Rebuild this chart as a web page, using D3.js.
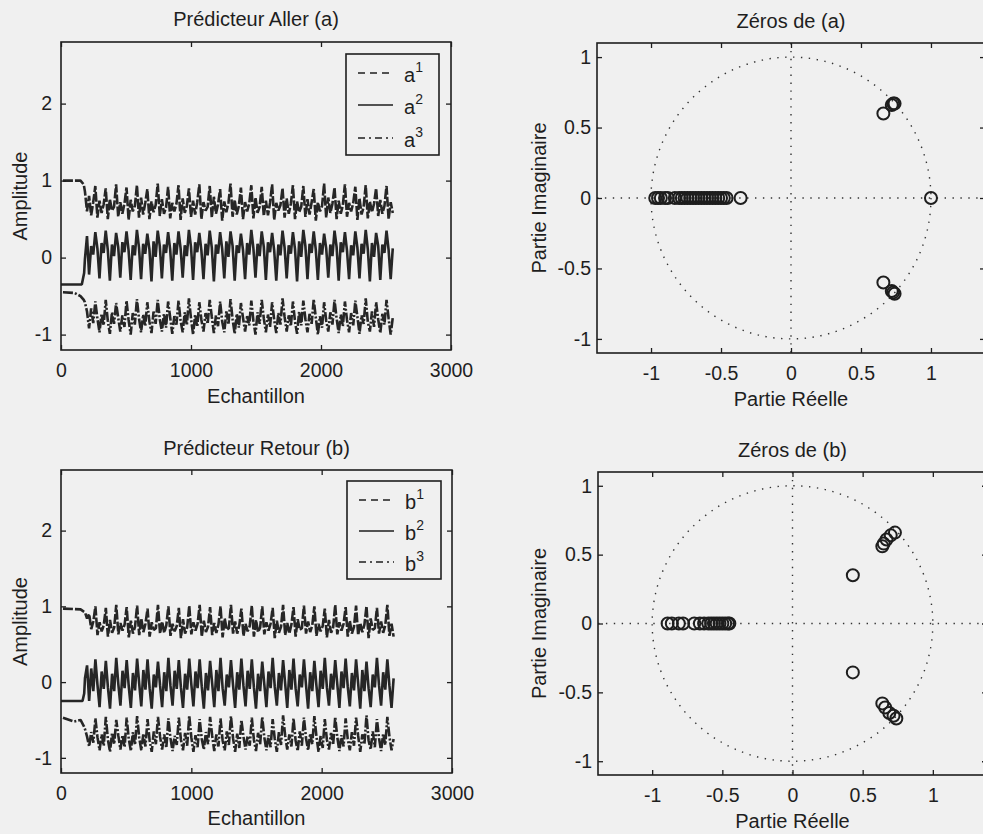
<!DOCTYPE html>
<html>
<head>
<meta charset="utf-8">
<script src="https://cdnjs.cloudflare.com/ajax/libs/d3/7.8.5/d3.min.js"></script>
<style>
body { margin: 0; background: #f0f0f0; }
svg { display: block; }
text { font-family: "Liberation Sans", Arial, sans-serif; fill: #1e1e1e; }
</style>
</head>
<body>
<div id="fig"></div>
<script>
// sample grid of the coefficient traces (start sample, step between values)
var sampleStart = 184;
var sampleStep = 16;

// beginning of each trace, before the grid starts: [sample, value]
var aStart1 = [[15, 1.0], [150, 1.0], [175, 0.95]];
var aStart2 = [[0, -0.35], [160, -0.35], [178, -0.2]];
var aStart3 = [[15, -0.45], [105, -0.46], [150, -0.5], [175, -0.55]];
var bStart1 = [[15, 0.97], [150, 0.96], [175, 0.93]];
var bStart2 = [[0, -0.25], [165, -0.25], [178, -0.15]];
var bStart3 = [[15, -0.47], [100, -0.52], [150, -0.5], [175, -0.58]];

// forward predictor coefficients a1, a2, a3
var a1 = [0.86,0.60,0.80,0.55,0.72, 0.93,0.52,0.74,0.58,0.69, 0.90,0.50,0.76,0.61,0.66, 0.95,0.53,0.72,0.57,0.70,
  0.91,0.49,0.75,0.60,0.67, 0.94,0.52,0.78,0.56,0.71, 0.89,0.50,0.73,0.59,0.68, 0.96,0.54,0.76,0.57,0.65,
  0.92,0.51,0.71,0.60,0.70, 0.94,0.49,0.77,0.58,0.67, 0.90,0.53,0.74,0.56,0.72, 0.95,0.50,0.72,0.61,0.66,
  0.93,0.52,0.79,0.57,0.69, 0.89,0.48,0.73,0.59,0.71, 0.96,0.53,0.75,0.56,0.67, 0.91,0.50,0.72,0.60,0.70,
  0.94,0.51,0.78,0.58,0.66, 0.92,0.54,0.74,0.55,0.71, 0.95,0.49,0.71,0.61,0.68, 0.90,0.52,0.77,0.57,0.70,
  0.94,0.50,0.73,0.59,0.66, 0.93,0.53,0.76,0.56,0.72, 0.89,0.48,0.72,0.60,0.67, 0.96,0.52,0.78,0.58,0.70,
  0.91,0.50,0.74,0.57,0.68, 0.95,0.53,0.71,0.60,0.71, 0.92,0.49,0.77,0.56,0.66, 0.94,0.51,0.73,0.59,0.70,
  0.90,0.54,0.75,0.57,0.67, 0.93,0.50,0.72,0.58];
var a2 = [-0.02,0.28,-0.22,0.15,0.04, 0.33,0.12,-0.27,0.19,0.06, 0.35,0.10,-0.30,0.17,0.02, 0.32,0.14,-0.26,0.20,0.07,
  0.34,0.09,-0.29,0.16,0.03, 0.36,0.13,-0.28,0.18,0.05, 0.31,0.11,-0.31,0.21,0.01, 0.35,0.15,-0.27,0.17,0.06,
  0.33,0.10,-0.30,0.19,0.04, 0.34,0.12,-0.26,0.16,0.02, 0.36,0.14,-0.29,0.20,0.07, 0.32,0.09,-0.28,0.18,0.03,
  0.35,0.13,-0.31,0.17,0.05, 0.33,0.11,-0.27,0.21,0.01, 0.34,0.15,-0.30,0.16,0.06, 0.31,0.10,-0.28,0.19,0.04,
  0.36,0.12,-0.26,0.18,0.02, 0.34,0.14,-0.29,0.20,0.07, 0.32,0.09,-0.30,0.17,0.03, 0.35,0.13,-0.27,0.16,0.05,
  0.33,0.11,-0.31,0.21,0.01, 0.36,0.15,-0.28,0.18,0.06, 0.34,0.10,-0.29,0.19,0.04, 0.31,0.12,-0.26,0.17,0.02,
  0.35,0.14,-0.30,0.20,0.07, 0.33,0.09,-0.28,0.16,0.03, 0.34,0.13,-0.27,0.18,0.05, 0.36,0.11,-0.31,0.19,0.01,
  0.32,0.15,-0.29,0.17,0.06, 0.35,0.10,-0.28,0.12];
var a3 = [-0.58,-0.70,-0.92,-0.66,-0.85, -0.57,-0.79,-0.97,-0.73,-0.88, -0.55,-0.82,-0.99,-0.71,-0.86, -0.59,-0.78,-0.96,-0.75,-0.90,
  -0.56,-0.81,-1.00,-0.72,-0.87, -0.54,-0.79,-0.97,-0.74,-0.89, -0.58,-0.83,-0.98,-0.70,-0.86, -0.55,-0.80,-0.96,-0.73,-0.91,
  -0.57,-0.78,-0.99,-0.76,-0.87, -0.56,-0.82,-0.97,-0.71,-0.88, -0.53,-0.79,-1.00,-0.74,-0.90, -0.58,-0.81,-0.96,-0.72,-0.86,
  -0.55,-0.77,-0.98,-0.75,-0.89, -0.57,-0.83,-0.97,-0.70,-0.87, -0.54,-0.80,-0.99,-0.73,-0.91, -0.59,-0.78,-0.96,-0.76,-0.88,
  -0.56,-0.82,-1.00,-0.71,-0.86, -0.55,-0.79,-0.97,-0.74,-0.90, -0.58,-0.81,-0.98,-0.72,-0.87, -0.53,-0.77,-0.96,-0.75,-0.89,
  -0.57,-0.83,-0.99,-0.70,-0.88, -0.56,-0.80,-0.97,-0.73,-0.86, -0.54,-0.78,-1.00,-0.76,-0.91, -0.58,-0.82,-0.96,-0.71,-0.87,
  -0.55,-0.79,-0.98,-0.74,-0.89, -0.57,-0.81,-0.97,-0.72,-0.88, -0.56,-0.77,-0.99,-0.75,-0.86, -0.53,-0.83,-0.96,-0.70,-0.90,
  -0.58,-0.80,-0.98,-0.73,-0.87, -0.55,-0.79,-1.00,-0.78];

// backward predictor coefficients b1, b2, b3
var b1 = [0.92,0.84,0.90,0.70,0.80, 1.00,0.62,0.79,0.67,0.75, 0.98,0.60,0.82,0.65,0.72, 1.02,0.63,0.78,0.68,0.76,
  0.99,0.59,0.81,0.64,0.73, 1.01,0.62,0.84,0.66,0.77, 0.97,0.60,0.79,0.69,0.71, 1.02,0.64,0.80,0.65,0.75,
  1.00,0.61,0.77,0.67,0.74, 0.98,0.58,0.83,0.64,0.72, 1.01,0.63,0.79,0.68,0.77, 1.02,0.60,0.81,0.66,0.73,
  0.99,0.62,0.78,0.65,0.76, 1.00,0.59,0.84,0.69,0.71, 1.02,0.64,0.80,0.64,0.75, 0.97,0.61,0.77,0.67,0.74,
  1.01,0.60,0.82,0.66,0.72, 1.00,0.63,0.79,0.68,0.77, 0.98,0.58,0.81,0.65,0.73, 1.02,0.62,0.78,0.64,0.76,
  0.99,0.60,0.83,0.69,0.71, 1.01,0.64,0.80,0.66,0.75, 1.00,0.61,0.77,0.67,0.74, 0.97,0.59,0.82,0.65,0.72,
  1.02,0.63,0.79,0.68,0.77, 0.99,0.60,0.81,0.64,0.73, 1.01,0.62,0.78,0.66,0.76, 1.00,0.58,0.84,0.69,0.71,
  0.98,0.64,0.80,0.65,0.75, 1.02,0.61,0.77,0.60];
var b2 = [0.05,0.22,-0.25,0.18,-0.12, 0.30,-0.04,-0.33,0.14,-0.09, 0.28,-0.07,-0.35,0.11,-0.12, 0.32,-0.03,-0.31,0.15,-0.08,
  0.29,-0.06,-0.34,0.12,-0.11, 0.31,-0.02,-0.32,0.16,-0.10, 0.30,-0.08,-0.35,0.10,-0.07, 0.27,-0.04,-0.33,0.13,-0.12,
  0.32,-0.05,-0.31,0.15,-0.09, 0.29,-0.07,-0.34,0.11,-0.10, 0.31,-0.03,-0.32,0.14,-0.08, 0.30,-0.06,-0.35,0.12,-0.11,
  0.28,-0.02,-0.33,0.16,-0.12, 0.32,-0.08,-0.31,0.10,-0.07, 0.29,-0.04,-0.34,0.13,-0.10, 0.31,-0.05,-0.32,0.15,-0.09,
  0.30,-0.07,-0.35,0.11,-0.12, 0.27,-0.03,-0.33,0.14,-0.08, 0.32,-0.06,-0.31,0.12,-0.11, 0.29,-0.02,-0.34,0.16,-0.10,
  0.31,-0.08,-0.32,0.10,-0.07, 0.30,-0.04,-0.35,0.13,-0.12, 0.28,-0.05,-0.33,0.15,-0.09, 0.32,-0.07,-0.31,0.11,-0.10,
  0.29,-0.03,-0.34,0.14,-0.08, 0.31,-0.06,-0.32,0.12,-0.11, 0.30,-0.02,-0.35,0.16,-0.12, 0.27,-0.08,-0.33,0.10,-0.07,
  0.32,-0.04,-0.31,0.13,-0.10, 0.30,-0.05,-0.34,0.05];
var b3 = [-0.62,-0.72,-0.85,-0.66,-0.80, -0.48,-0.73,-0.90,-0.69,-0.84, -0.46,-0.76,-0.92,-0.67,-0.82, -0.50,-0.71,-0.89,-0.70,-0.86,
  -0.47,-0.75,-0.91,-0.66,-0.83, -0.45,-0.73,-0.90,-0.68,-0.85, -0.49,-0.77,-0.92,-0.65,-0.82, -0.46,-0.72,-0.89,-0.69,-0.87,
  -0.48,-0.74,-0.91,-0.71,-0.83, -0.47,-0.76,-0.90,-0.67,-0.84, -0.44,-0.73,-0.92,-0.70,-0.86, -0.49,-0.75,-0.89,-0.66,-0.82,
  -0.46,-0.71,-0.91,-0.69,-0.85, -0.48,-0.77,-0.90,-0.65,-0.83, -0.45,-0.74,-0.92,-0.68,-0.87, -0.50,-0.72,-0.89,-0.71,-0.84,
  -0.47,-0.76,-0.91,-0.67,-0.82, -0.46,-0.73,-0.90,-0.70,-0.86, -0.49,-0.75,-0.92,-0.66,-0.83, -0.44,-0.71,-0.89,-0.69,-0.85,
  -0.48,-0.77,-0.91,-0.65,-0.84, -0.47,-0.74,-0.90,-0.68,-0.82, -0.45,-0.72,-0.92,-0.71,-0.87, -0.49,-0.76,-0.89,-0.67,-0.83,
  -0.46,-0.73,-0.91,-0.70,-0.85, -0.48,-0.75,-0.90,-0.66,-0.84, -0.47,-0.71,-0.92,-0.69,-0.82, -0.44,-0.77,-0.89,-0.65,-0.86,
  -0.49,-0.74,-0.91,-0.68,-0.83, -0.46,-0.72,-0.90,-0.75];

// zeros of (a): real and imaginary parts
var zerosARe = [-0.97,-0.95,-0.93,-0.90,-0.88,-0.83,-0.80,-0.78,-0.76,-0.74,-0.72,-0.70,-0.68,-0.66,-0.64,-0.62,-0.60,-0.58,-0.56,-0.54,-0.52,-0.50,-0.48,-0.46,-0.36,
  0.66, 0.72, 0.73, 0.74, 0.66, 0.72, 0.73, 0.74, 1.0];
var zerosAIm = [0,0,0,0,0,0,0,0,0,0,0,0,0,0,0,0,0,0,0,0,0,0,0,0,0,
  0.60, 0.66, 0.67, 0.67, -0.60, -0.66, -0.67, -0.68, 0];

// zeros of (b)
var zerosBRe = [-0.89,-0.86,-0.81,-0.78,-0.70,-0.66,-0.63,-0.60,-0.58,-0.56,-0.54,-0.52,-0.50,-0.48,-0.46,-0.45,
  0.43, 0.43, 0.64, 0.65, 0.67, 0.70, 0.73, 0.64, 0.66, 0.69, 0.72, 0.74];
var zerosBIm = [0,0,0,0,0,0,0,0,0,0,0,0,0,0,0,0,
  0.35, -0.355, 0.56, 0.58, 0.61, 0.64, 0.66, -0.58, -0.61, -0.65, -0.67, -0.69];

// tick labels
var sampleTicks = [0, 1000, 2000, 3000];
var ampTicks = [-1, 0, 1, 2];
var zTicks = [-1, -0.5, 0, 0.5, 1];

var width = 983;
var height = 834;
var ink = "#1e1e1e";
var fontSize = 20;
var tickFont = 19.5;

var svg = d3.select("#fig").append("svg")
    .attr("width", width)
    .attr("height", height);

svg.append("rect")
    .attr("width", width)
    .attr("height", height)
    .attr("fill", "#f0f0f0");

// line styles of the three traces (dashed, solid, dash-dot)
var dashes = ["10,2", null, "10,2,2,2"];
var legendDashes = ["7,5", null, "7,4,2,4"];

// joins the starting piece and the regular grid of a trace
function tracePoints(start, values) {
    var pts = start.slice();
    values.forEach(function(v, i) {
        pts.push([sampleStart + i * sampleStep, v]);
    });
    return pts;
}

// puts inward ticks on the four sides of an axes box
function drawAxes(g, x, y, box, xTicks, yTicks, pad) {
    var fmt = function(d) { return String(d); };
    var bottom = g.append("g")
        .attr("transform", "translate(0," + box.bottom + ")")
        .call(d3.axisBottom(x).tickValues(xTicks).tickSize(-5).tickPadding(13).tickFormat(fmt));
    var top = g.append("g")
        .attr("transform", "translate(0," + box.top + ")")
        .call(d3.axisTop(x).tickValues(xTicks).tickSize(-5).tickFormat(""));
    var left = g.append("g")
        .attr("transform", "translate(" + box.left + ",0)")
        .call(d3.axisLeft(y).tickValues(yTicks).tickSize(-5).tickPadding(pad).tickFormat(fmt));
    var right = g.append("g")
        .attr("transform", "translate(" + box.right + ",0)")
        .call(d3.axisRight(y).tickValues(yTicks).tickSize(-5).tickFormat(""));

    [bottom, top, left, right].forEach(function(a) {
        a.select(".domain").remove();
        a.selectAll("line").attr("stroke", ink).attr("stroke-width", 1.3);
        a.selectAll("text")
            .style("font-family", '"Liberation Sans", Arial, sans-serif')
            .style("font-size", tickFont + "px")
            .attr("fill", ink);
    });

    g.append("rect")
        .attr("x", box.left)
        .attr("y", box.top)
        .attr("width", box.right - box.left)
        .attr("height", box.bottom - box.top)
        .attr("fill", "none")
        .attr("stroke", ink)
        .attr("stroke-width", 1.6);
}

function addLabels(g, box, title, xTitle, yTitle, yTitleX, titleY, xTitleY) {
    var cx = (box.left + box.right) / 2;
    g.append("text")
        .attr("x", cx)
        .attr("y", titleY)
        .attr("text-anchor", "middle")
        .style("font-size", fontSize + "px")
        .text(title);
    g.append("text")
        .attr("x", cx)
        .attr("y", xTitleY)
        .attr("text-anchor", "middle")
        .style("font-size", fontSize + "px")
        .text(xTitle);
    g.append("text")
        .attr("transform", "translate(" + yTitleX + "," + ((box.top + box.bottom) / 2) + ")rotate(-90)")
        .attr("text-anchor", "middle")
        .style("font-size", fontSize + "px")
        .text(yTitle);
}

// coefficient traces plot
function drawCoeffPlot(box, title, letter, starts, series, legend, titleY, xTitleY) {
    var g = svg.append("g");
    var x = d3.scaleLinear().domain([0, 3000]).range([box.left, box.right]);
    var y = d3.scaleLinear().domain([-1.2, 2.8]).range([box.bottom, box.top]);

    var line = d3.line()
        .x(function(d) { return x(d[0]); })
        .y(function(d) { return y(d[1]); });

    series.forEach(function(s, i) {
        g.append("path")
            .datum(tracePoints(starts[i], s))
            .attr("d", line)
            .attr("fill", "none")
            .attr("stroke", "#262626")
            .attr("stroke-width", 2.6)
            .attr("stroke-linejoin", "bevel")
            .attr("stroke-dasharray", dashes[i]);
    });

    drawAxes(g, x, y, box, sampleTicks, ampTicks, 9);
    addLabels(g, box, title, "Echantillon", "Amplitude", 27, titleY, xTitleY);

    // legend
    g.append("rect")
        .attr("x", legend.x)
        .attr("y", legend.y)
        .attr("width", legend.w)
        .attr("height", legend.h)
        .attr("fill", "#f0f0f0")
        .attr("stroke", ink)
        .attr("stroke-width", 1.6);

    [1, 2, 3].forEach(function(k, i) {
        var ly = legend.rows[i];
        g.append("line")
            .attr("x1", legend.x + 12)
            .attr("x2", legend.x + 47)
            .attr("y1", ly)
            .attr("y2", ly)
            .attr("stroke", ink)
            .attr("stroke-width", 1.6)
            .attr("stroke-dasharray", legendDashes[i]);
        var t = g.append("text")
            .attr("x", legend.x + 58)
            .attr("y", ly + 9)
            .style("font-size", fontSize + "px")
            .text(letter);
        t.append("tspan")
            .attr("dy", -10)
            .style("font-size", "14px")
            .text(k);
    });
}

// pole-zero plot
function drawZeros(box, title, re, im, titleY, xTitleY) {
    var g = svg.append("g");
    var x = d3.scaleLinear().domain([-1.386, 1.386]).range([box.left, box.right]);
    var y = d3.scaleLinear().domain([-1.1, 1.1]).range([box.bottom, box.top]);

    // unit circle and axes, dotted
    g.append("ellipse")
        .attr("cx", x(0))
        .attr("cy", y(0))
        .attr("rx", x(1) - x(0))
        .attr("ry", y(0) - y(1))
        .attr("fill", "none")
        .attr("stroke", "#333")
        .attr("stroke-width", 1.4)
        .attr("stroke-dasharray", "1.4,6.5");
    g.append("line")
        .attr("x1", box.left).attr("x2", box.right)
        .attr("y1", y(0)).attr("y2", y(0))
        .attr("stroke", "#333")
        .attr("stroke-width", 1.4)
        .attr("stroke-dasharray", "1.4,6.5");
    g.append("line")
        .attr("x1", x(0)).attr("x2", x(0))
        .attr("y1", box.top).attr("y2", box.bottom)
        .attr("stroke", "#333")
        .attr("stroke-width", 1.4)
        .attr("stroke-dasharray", "1.4,6.5");

    g.selectAll(".zero")
        .data(re.map(function(r, i) { return [r, im[i]]; }))
        .enter()
        .append("circle")
        .attr("class", "zero")
        .attr("cx", function(d) { return x(d[0]); })
        .attr("cy", function(d) { return y(d[1]); })
        .attr("r", 6)
        .attr("fill", "none")
        .attr("stroke", ink)
        .attr("stroke-width", 2);

    drawAxes(g, x, y, box, zTicks, zTicks, 6);
    addLabels(g, box, title, "Partie Réelle", "Partie Imaginaire", 546, titleY, xTitleY);
}

drawCoeffPlot({left: 61, right: 451, top: 42, bottom: 350}, "Prédicteur Aller (a)", "a",
    [aStart1, aStart2, aStart3], [a1, a2, a3],
    {x: 346, y: 54, w: 93, h: 101, rows: [73, 105, 138]}, 26, 403);

drawZeros({left: 597, right: 985, top: 43, bottom: 353}, "Zéros de (a)", zerosARe, zerosAIm, 28, 406);

drawCoeffPlot({left: 61, right: 452, top: 470, bottom: 773}, "Prédicteur Retour (b)", "b",
    [bStart1, bStart2, bStart3], [b1, b2, b3],
    {x: 347, y: 481, w: 94, h: 98, rows: [500, 531, 562]}, 455, 825);

drawZeros({left: 598, right: 987, top: 472, bottom: 775}, "Zéros de (b)", zerosBRe, zerosBIm, 457, 828);
</script>
</body>
</html>
